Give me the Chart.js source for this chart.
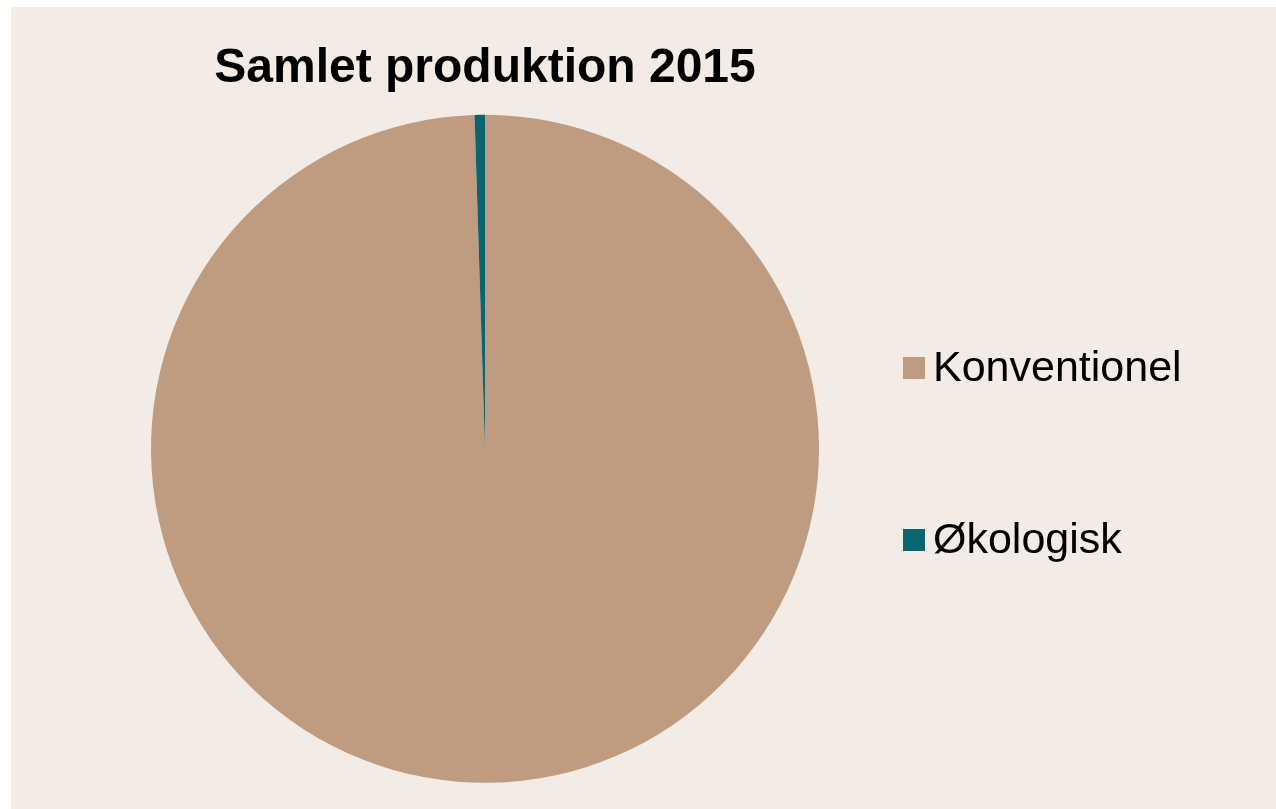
<!DOCTYPE html>
<html lang="da">
<head>
<meta charset="utf-8">
<title>Samlet produktion 2015</title>
<script src="https://cdn.jsdelivr.net/npm/chart.js@4/dist/chart.umd.min.js"></script>
<style>
    html, body { margin: 0; padding: 0; background: #ffffff; }
    .panel {
        position: absolute;
        left: 11px;
        top: 7px;
        width: 1265px;
        height: 802px;
        background: #f2ebe6;
    }
    canvas { display: block; }
</style>
</head>
<body>
<div class="panel">
    <canvas id="pieChart" width="1265" height="802"></canvas>
</div>
<script>
// Data (share of total production, %)
const categories = ['Konventionel', 'Økologisk'];
const shares = [99.5, 0.5];
const sliceColors = ['#bf9b80', '#0b6571'];

const chartTitle = 'Samlet produktion 2015';
const fontFamily = '"Liberation Sans", Arial, Helvetica, sans-serif';

// Legend on the right, drawn from the chart's own labels and colours
const sideLegend = {
    id: 'sideLegend',
    afterDraw: function(chart, args, opts) {
        const ctx = chart.ctx;
        const labels = chart.data.labels;
        const colors = chart.data.datasets[0].backgroundColor;
        ctx.save();
        ctx.font = opts.fontSize + 'px ' + fontFamily;
        ctx.textBaseline = 'middle';
        ctx.textAlign = 'left';
        labels.forEach((label, i) => {
            const cy = opts.top + i * opts.spacing;
            ctx.fillStyle = colors[i];
            ctx.fillRect(opts.left, cy - opts.box / 2, opts.box, opts.box);
            ctx.fillStyle = '#000000';
            ctx.fillText(label, opts.left + opts.box + opts.gap, cy + 1);
        });
        ctx.restore();
    }
};

new Chart(document.getElementById('pieChart'), {
    type: 'pie',
    data: {
        labels: categories,
        datasets: [{
            data: shares,
            backgroundColor: sliceColors,
            borderWidth: 0,
            hoverOffset: 0
        }]
    },
    options: {
        responsive: false,
        animation: false,
        layout: {
            padding: { left: 140, right: 457, top: 13, bottom: 26 }
        },
        plugins: {
            title: {
                display: true,
                text: chartTitle,
                color: '#000000',
                font: { family: fontFamily, size: 48, weight: 'bold', lineHeight: 1.2 },
                padding: { top: 20, bottom: 17 }
            },
            legend: { display: false },
            tooltip: { enabled: false },
            sideLegend: {
                left: 892,
                top: 361,
                spacing: 172,
                box: 22,
                gap: 8,
                fontSize: 43
            }
        }
    },
    plugins: [sideLegend]
});
</script>
</body>
</html>
